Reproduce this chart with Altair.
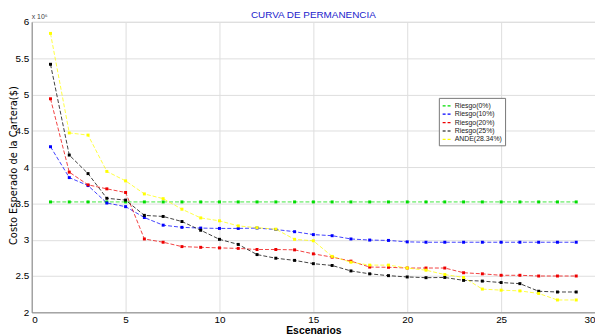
import altair as alt
import pandas as pd

escenarios = [1, 2, 3, 4, 5, 6, 7, 8, 9, 10, 11, 12, 13, 14, 15, 16, 17, 18, 19, 20,
              21, 22, 23, 24, 25, 26, 27, 28, 29]

series_names = ["Riesgo(0%)", "Riesgo(10%)", "Riesgo(20%)", "Riesgo(25%)", "ANDE(28.34%)"]
series_colors = ["#00dd00", "#0000ff", "#ee0000", "#000000", "#ffff00"]

riesgo0 = [3.52, 3.52, 3.52, 3.52, 3.52, 3.52, 3.52, 3.52, 3.52, 3.52, 3.52, 3.52, 3.52, 3.52,
           3.52, 3.52, 3.52, 3.52, 3.52, 3.52, 3.52, 3.52, 3.52, 3.52, 3.52, 3.52, 3.52, 3.52, 3.52]
riesgo10 = [4.28, 3.855, 3.745, 3.505, 3.455, 3.305, 3.20, 3.17, 3.16, 3.155, 3.155, 3.16, 3.14,
            3.11, 3.07, 3.055, 3.01, 2.995, 2.99, 2.97, 2.965, 2.965, 2.965, 2.965, 2.965, 2.965,
            2.965, 2.965, 2.965]
riesgo20 = [4.94, 3.93, 3.755, 3.70, 3.65, 3.01, 2.965, 2.905, 2.895, 2.887, 2.88, 2.865, 2.865,
            2.86, 2.805, 2.76, 2.705, 2.623, 2.62, 2.61, 2.61, 2.61, 2.545, 2.53, 2.51, 2.51,
            2.50, 2.50, 2.50]
riesgo25 = [5.415, 4.165, 3.91, 3.57, 3.545, 3.335, 3.32, 3.25, 3.13, 3.005, 2.935, 2.795, 2.745,
            2.715, 2.67, 2.645, 2.57, 2.53, 2.505, 2.487, 2.477, 2.48, 2.44, 2.43, 2.41, 2.395,
            2.29, 2.28, 2.28]
ande = [5.84, 4.47, 4.44, 3.94, 3.81, 3.63, 3.565, 3.42, 3.30, 3.26, 3.19, 3.165, 3.145, 3.005,
        2.985, 2.77, 2.69, 2.65, 2.65, 2.61, 2.58, 2.52, 2.48, 2.32, 2.305, 2.295, 2.26, 2.17, 2.17]

x_ticks = [0, 5, 10, 15, 20, 25, 30]
y_ticks = [2, 2.5, 3, 3.5, 4, 4.5, 5, 5.5, 6]

rows = []
for name, vals in zip(series_names, [riesgo0, riesgo10, riesgo20, riesgo25, ande]):
    for e, v in zip(escenarios, vals):
        rows.append({"Escenario": e, "Costo": v, "Serie": name})
df = pd.DataFrame(rows)

cscale = alt.Scale(domain=series_names, range=series_colors)
color = alt.Color(
    "Serie:N",
    scale=cscale,
    sort=series_names,
    legend=alt.Legend(
        title=None, orient="none", legendX=412, legendY=77,
        symbolType="stroke", symbolDash=[3, 2], symbolStrokeWidth=1.2, symbolSize=70,
        labelFontSize=7, labelColor="#222", labelFont="Liberation Sans",
        fillColor="white", strokeColor="#777", padding=3, rowPadding=0.5,
        labelOffset=3, labelLimit=80,
    ),
)

xenc = alt.X(
    "Escenario:Q",
    scale=alt.Scale(domain=[0, 30], nice=False),
    axis=alt.Axis(values=x_ticks, tickCount=7, title="Escenarios", titleFontWeight="bold",
                  titleFontSize=10.5, titlePadding=1, labelPadding=2, labelOverlap=False,
                  ticks=False, tickSize=0),
)
yenc = alt.Y(
    "Costo:Q",
    scale=alt.Scale(domain=[2, 6], nice=False, zero=False),
    axis=alt.Axis(values=y_ticks, tickCount=9, format="~g",
                  title="Costo Esperado de la Cartera($)",
                  titleFont="DejaVu Sans", titleFontSize=10, titleFontWeight="normal",
                  titleX=-13, titleY=145, titleAngle=270, titleBaseline="bottom",
                  titleAlign="center", labelPadding=3, labelOverlap=False,
                  ticks=False, tickSize=0),
)

base = alt.Chart(df)
lines = base.mark_line(strokeWidth=1, strokeDash=[4, 2], strokeOpacity=0.75).encode(
    x=xenc, y=yenc, color=color, detail="Serie:N"
)
points = base.mark_point(filled=True, size=9, opacity=1, shape="square").encode(
    x=xenc, y=yenc, color=alt.Color("Serie:N", legend=None, scale=cscale)
)
exp_label = alt.Chart(pd.DataFrame({"t": ["x 10\u2076"]})).mark_text(
    align="left", baseline="middle", fontSize=7, color="#444", font="Liberation Sans"
).encode(x=alt.value(0), y=alt.value(-5), text="t:N")

chart = alt.layer(lines, points, exp_label).properties(
    width=570, height=294,
    autosize=alt.AutoSizeParams(type="none"),
    padding={"left": 24, "top": 12, "right": 0, "bottom": 22},
    title=alt.Title("CURVA DE PERMANENCIA", color="#2222cc", fontSize=10,
                    fontWeight="normal", font="Liberation Sans", offset=-7, anchor="middle"),
).configure_axis(
    grid=True, gridDash=[1, 2], gridColor="#999", gridWidth=1,
    domainColor="#777",
    labelFont="Liberation Sans", labelFontSize=8, labelColor="#444",
    titleFont="Liberation Sans", titleColor="#000",
).configure_view(stroke=None).configure(background="white")

chart.save("out.html", embed_options={"renderer": "svg", "actions": False})
